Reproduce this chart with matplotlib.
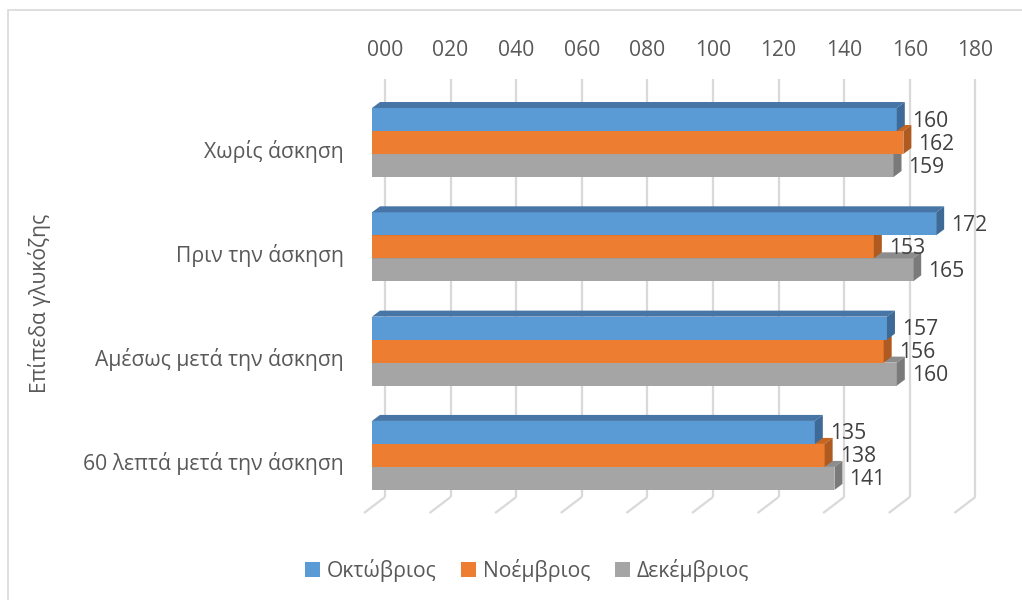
import matplotlib
matplotlib.use("Agg")
import matplotlib.pyplot as plt
from matplotlib.patches import Polygon, Rectangle, Patch

# ---- data ----
categories = ["Χωρίς άσκηση", "Πριν την άσκηση",
              "Αμέσως μετά την άσκηση", "60 λεπτά μετά την άσκηση"]
series_names = ["Οκτώβριος", "Νοέμβριος", "Δεκέμβριος"]
oct_vals = [160, 172, 157, 135]
nov_vals = [162, 153, 156, 138]
dec_vals = [159, 165, 160, 141]
x_ticks = [0, 20, 40, 60, 80, 100, 120, 140, 160, 180]
x_tick_labels = ["000", "020", "040", "060", "080", "100", "120", "140", "160", "180"]
axis_title = "Επίπεδα γλυκόζης"

# ---- style ----
FONT = ["Open Sans", "DejaVu Sans"]
plt.rcParams["font.family"] = FONT
FS = 15.2
front_colors = ["#5B9BD5", "#ED7D31", "#A5A5A5"]
top_colors = ["#4675A6", "#C4661F", "#8C8C8C"]
side_colors = ["#3D6A96", "#AE5A21", "#7A7A7A"]
grid_color = "#D9D9D9"
text_color = "#595959"
label_color = "#404040"

W, H = 1022, 600
fig = plt.figure(figsize=(W / 100, H / 100), dpi=100)

# axes geometry (front plane of the bars)
ax_left, ax_right = 372, 962.4
ax_top, ax_bottom = 79, 513
xmin, xmax = 0, 180
ytop_lim, ybot_lim = -0.609, 3.552
ax = fig.add_axes([ax_left / W, 1 - ax_bottom / H,
                   (ax_right - ax_left) / W, (ax_bottom - ax_top) / H])
ax.set_xlim(xmin, xmax)
ax.set_ylim(ybot_lim, ytop_lim)
ax.set_axis_off()

px_x = (ax_right - ax_left) / (xmax - xmin)
px_y = (ax_bottom - ax_top) / (ybot_lim - ytop_lim)


def dx(p):
    return p / px_x


def dy(p):
    return p / px_y


# back wall gridlines and floor diagonals
wall_dx = dx(13)
floor_front_dx = dx(-8)
floor_back_y = ytop_lim + dy(497 - ax_top)
for v, lab in zip(x_ticks, x_tick_labels):
    xb = v + wall_dx
    ax.plot([xb, xb], [ytop_lim, floor_back_y], color=grid_color, lw=1.6,
            zorder=1, clip_on=False, solid_capstyle="butt")
    ax.plot([xb, v + floor_front_dx], [floor_back_y, ybot_lim], color=grid_color,
            lw=1.6, zorder=1, clip_on=False, solid_capstyle="butt")
    ax.text(xb, ytop_lim - dy(28), lab, ha="center", va="center",
            fontsize=FS, color=text_color)

# 3D bars
bh = dy(23)
depth_x, depth_y = dx(8), dy(6)
series = [oct_vals, nov_vals, dec_vals]
offsets = [-bh, 0.0, bh]
z = 2
for i in range(len(categories)):
    for s in (2, 1, 0):
        v = series[s][i]
        yc = i + offsets[s]
        yt, yb = yc - bh / 2, yc + bh / 2
        ax.add_patch(Rectangle((0, yt), v, bh, facecolor=front_colors[s],
                               edgecolor="none", zorder=z, clip_on=False))
        ax.add_patch(Polygon([(0, yt), (v, yt), (v + depth_x, yt - depth_y),
                              (depth_x, yt - depth_y)], closed=True,
                             facecolor=top_colors[s], edgecolor="none",
                             zorder=z, clip_on=False))
        ax.add_patch(Polygon([(v, yt), (v + depth_x, yt - depth_y),
                              (v + depth_x, yb - depth_y), (v, yb)], closed=True,
                             facecolor=side_colors[s], edgecolor="none",
                             zorder=z, clip_on=False))
        ax.text(v + depth_x + dx(7), yc + dy(1.5), f"{v}", ha="left", va="center",
                fontsize=FS, color=label_color, zorder=10)
        z += 1

# category labels
for i, cat in enumerate(categories):
    ax.text(dx(-28), i + dy(8.5), cat, ha="right", va="center",
            fontsize=FS, color=text_color)

# axis title
fig.text(40 / W, 1 - 303 / H, axis_title, rotation=90, ha="center", va="center",
         fontsize=FS, color=text_color)

# legend
handles = [Patch(facecolor=c, edgecolor="none") for c in front_colors]
fig.legend(handles, series_names, loc="center", bbox_to_anchor=(527 / W, 1 - 570 / H),
           ncol=3, frameon=False, handlelength=0.7, handleheight=0.7,
           handletextpad=0.35, columnspacing=1.15, fontsize=FS, labelcolor=text_color)

# chart area border
fig.patches.append(Rectangle((8 / W, -0.1), 1.2, (1 - 10 / H) + 0.1,
                             transform=fig.transFigure, fill=False,
                             edgecolor="#D9D9D9", lw=1.2))

fig.savefig("out.png", dpi=100)
